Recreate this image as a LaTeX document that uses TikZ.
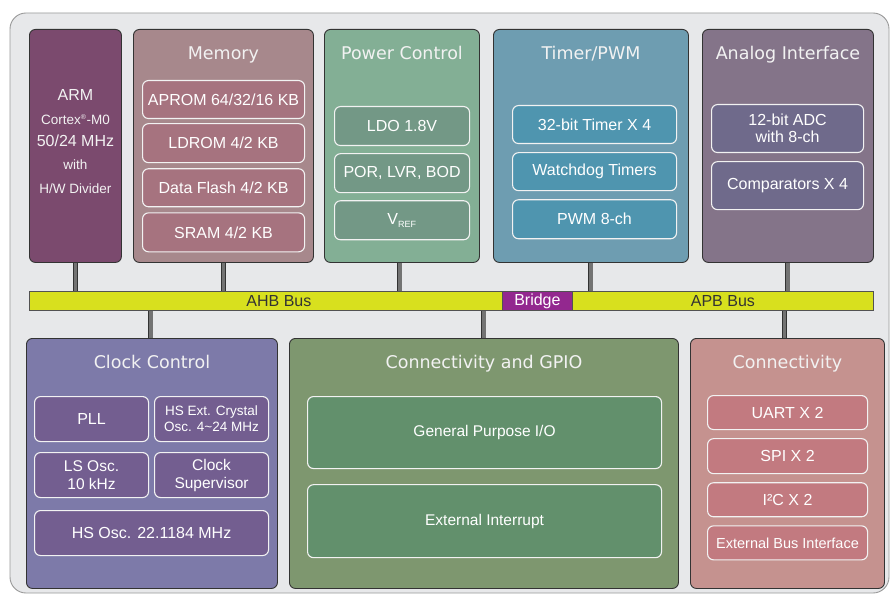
\documentclass[tikz,border=0pt]{standalone}
\usepackage{fontspec}
\setmainfont{Liberation Sans}
\newfontfamily\titlefont{DejaVu Sans}
\usetikzlibrary{positioning,calc}
\definecolor{cInk}{HTML}{333333}
\definecolor{cBg}{HTML}{E7E8EA}
\definecolor{cFrame}{HTML}{9A9A9A}
\definecolor{cArm}{HTML}{7B4A6E}
\definecolor{cMem}{HTML}{A7888C}
\definecolor{cMemIn}{HTML}{A6737F}
\definecolor{cPow}{HTML}{83AF95}
\definecolor{cPowIn}{HTML}{739886}
\definecolor{cTim}{HTML}{6E9DB1}
\definecolor{cTimIn}{HTML}{4F95AF}
\definecolor{cAna}{HTML}{847489}
\definecolor{cAnaIn}{HTML}{6F6A8B}
\definecolor{cClk}{HTML}{7D7AA9}
\definecolor{cClkIn}{HTML}{735E90}
\definecolor{cGpio}{HTML}{7E976F}
\definecolor{cGpioIn}{HTML}{62906C}
\definecolor{cCon}{HTML}{C5928F}
\definecolor{cConIn}{HTML}{C27A80}
\definecolor{cBus}{HTML}{D8E01E}
\definecolor{cBridge}{HTML}{93288F}
\newcommand{\fs}[1]{\fontsize{#1}{#1}\selectfont}
\tikzset{
  block/.style = {draw=cInk, rounded corners=6pt, line width=0.9pt,
                  anchor=north west, inner sep=0pt},
  part/.style  = {draw=white!90!gray, rounded corners=6pt, line width=1.1pt,
                  text=white, align=center, inner sep=0pt,
                  font=\fs{16}},
  title/.style = {text=white!95!black, font=\titlefont\fs{17.5}, anchor=base},
  armtxt/.style = {text=white!95!black, font=\fs{13.5}},
  bus/.style   = {draw=cInk!85, line width=0.8pt, fill=cBus, anchor=north west,
                  inner sep=0pt, minimum height=19pt, font=\fs{16}, text=cInk},
  link/.style  = {draw=cInk, double=black!55, double distance=3.6pt,
                  line width=0.7pt},
}
\begin{document}
\begin{tikzpicture}[x=1pt, y=-1pt, node distance=4pt]
  \useasboundingbox (0,0) rectangle (891,596);
  \fill[white] (0,0) rectangle (891,596);
  \draw[cFrame, fill=cBg, line width=0.9pt, rounded corners=16pt]
    (10,13) rectangle (889,593);
  % ---- top row ----
  \node[block, fill=cArm, minimum width=92pt, minimum height=233pt] (arm)
    at (29,29) {};
  \node[armtxt, font=\fs{16}] (arm1) at ($(arm.north)+(0,66)$) {ARM};
  \node[armtxt] (arm2) at ($(arm.north)+(0,91)$) {Cortex\textsuperscript{\fs{7}®}-M0};
  \node[armtxt, font=\fs{16}] (arm3) at ($(arm.north)+(0,112)$) {50/24 MHz};
  \node[armtxt] (arm4) at ($(arm.north)+(0,136)$) {with};
  \node[armtxt] (arm5) at ($(arm.north)+(0,160)$) {H/W Divider};

  \node[block, fill=cMem, minimum width=180pt, minimum height=233pt] (mem)
    at (133,29) {};
  \node[title] (memT) at ($(mem.north)+(0,31)$) {Memory};
  \node[part, fill=cMemIn, minimum width=162pt, minimum height=38pt,
        anchor=north west] (aprom) at (142,80) {APROM 64/32/16 KB};
  \node[part, fill=cMemIn, minimum width=162pt, minimum height=39pt,
        below=4pt of aprom] (ldrom) {LDROM 4/2 KB};
  \node[part, fill=cMemIn, minimum width=162pt, minimum height=38pt,
        below=5pt of ldrom] (dflash) {Data Flash 4/2 KB};
  \node[part, fill=cMemIn, minimum width=162pt, minimum height=39pt,
        below=5pt of dflash] (sram) {SRAM 4/2 KB};

  \node[block, fill=cPow, minimum width=155pt, minimum height=233pt] (pow)
    at (324,29) {};
  \node[title] (powT) at ($(pow.north)+(0,31)$) {Power Control};
  \node[part, fill=cPowIn, minimum width=135pt, minimum height=39pt,
        anchor=north west] (ldo) at (334,106) {LDO 1.8V};
  \node[part, fill=cPowIn, minimum width=135pt, minimum height=39pt,
        below=7pt of ldo] (por) {POR, LVR, BOD};
  \node[part, fill=cPowIn, minimum width=135pt, minimum height=39pt,
        below=7pt of por] (vref) {V\textsubscript{\fs{9}REF}};

  \node[block, fill=cTim, minimum width=195pt, minimum height=233pt] (tim)
    at (493,29) {};
  \node[title] (timT) at ($(tim.north)+(0,31)$) {Timer/PWM};
  \node[part, fill=cTimIn, minimum width=164pt, minimum height=38pt,
        anchor=north west] (timer) at (512,105) {32-bit Timer X 4};
  \node[part, fill=cTimIn, minimum width=164pt, minimum height=38pt,
        below=8pt of timer] (wdt) {Watchdog Timers};
  \node[part, fill=cTimIn, minimum width=164pt, minimum height=39pt,
        below=8pt of wdt] (pwm) {PWM 8-ch};

  \node[block, fill=cAna, minimum width=171pt, minimum height=233pt] (ana)
    at (702,29) {};
  \node[title] (anaT) at ($(ana.north)+(0,31)$) {Analog Interface};
  \node[part, fill=cAnaIn, minimum width=152pt, minimum height=48pt,
        anchor=north west, font=\fontsize{16}{17}\selectfont] (adc)
    at (711,104) {12-bit ADC\\ with 8-ch};
  \node[part, fill=cAnaIn, minimum width=152pt, minimum height=48pt,
        below=8pt of adc] (cmp) {Comparators X 4};

  % ---- buses ----
  \node[bus, minimum width=473pt] (ahb) at (29,291) {};
  \node[text=cInk, font=\fs{16}] (ahbT) at ($(ahb.center)+(13,0)$) {AHB Bus};
  \node[bus, fill=cBridge, text=white, minimum width=70pt] (bridge)
    at (502,291) {Bridge};
  \node[bus, minimum width=301pt] (apb) at (572,291) {APB Bus};

  % ---- bottom row ----
  \node[block, fill=cClk, minimum width=251pt, minimum height=250pt] (clk)
    at (26,338) {};
  \node[title] (clkT) at ($(clk.north)+(0,30)$) {Clock Control};
  \node[part, fill=cClkIn, minimum width=114pt, minimum height=45pt,
        anchor=north west] (pll) at (34,396) {PLL};
  \node[part, fill=cClkIn, minimum width=114pt, minimum height=45pt,
        anchor=north west, font=\fontsize{13.5}{16}\selectfont] (hxt)
    at (154,396) {HS Ext. Crystal\\ Osc. 4\textasciitilde24 MHz};
  \node[part, fill=cClkIn, minimum width=114pt, minimum height=45pt,
        anchor=north west, font=\fontsize{15.5}{18}\selectfont] (lirc)
    at (34,452) {LS Osc.\\ 10 kHz};
  \node[part, fill=cClkIn, minimum width=114pt, minimum height=45pt,
        anchor=north west, font=\fontsize{15.5}{18}\selectfont] (cksup)
    at (154,452) {Clock\\ Supervisor};
  \node[part, fill=cClkIn, minimum width=234pt, minimum height=45pt,
        anchor=north west] (hirc) at (34,510) {HS Osc. 22.1184 MHz};

  \node[block, fill=cGpio, minimum width=389pt, minimum height=250pt] (gpio)
    at (289,338) {};
  \node[title] (gpioT) at ($(gpio.north)+(0,30)$) {Connectivity and GPIO};
  \node[part, fill=cGpioIn, minimum width=354pt, minimum height=72pt,
        anchor=north west, font=\fs{15.5}] (gpio1) at (307,396)
    {General Purpose I/O};
  \node[part, fill=cGpioIn, minimum width=354pt, minimum height=73pt,
        below=15pt of gpio1, font=\fs{15.5}] (eint) {External Interrupt};

  \node[block, fill=cCon, minimum width=194pt, minimum height=250pt] (con)
    at (690,338) {};
  \node[title] (conT) at ($(con.north)+(0,30)$) {Connectivity};
  \node[part, fill=cConIn, minimum width=160pt, minimum height=34pt,
        anchor=north west] (uart) at (707,395) {UART X 2};
  \node[part, fill=cConIn, minimum width=160pt, minimum height=35pt,
        below=8pt of uart] (spi) {SPI X 2};
  \node[part, fill=cConIn, minimum width=160pt, minimum height=34pt,
        below=8pt of spi] (i2c) {I²C X 2};
  \node[part, fill=cConIn, minimum width=160pt, minimum height=34pt,
        below=8pt of i2c, font=\fs{14.5}] (ebi) {External Bus Interface};

  % ---- links to the buses ----
  \draw[link] (arm.south) -- (arm.south |- ahb.north);
  \draw[link] (mem.south) -- (mem.south |- ahb.north);
  \draw[link] ([xshift=-2pt]pow.south) -- ([xshift=-2pt]pow.south |- ahb.north);
  \draw[link] (tim.south) -- (tim.south |- apb.north);
  \draw[link] (ana.south) -- (ana.south |- apb.north);
  \draw[link] ([xshift=-1pt]clk.north) -- ([xshift=-1pt]clk.north |- ahb.south);
  \draw[link] (gpio.north) -- (gpio.north |- ahb.south);
  \draw[link] ([xshift=-3pt]con.north) -- ([xshift=-3pt]con.north |- apb.south);
\end{tikzpicture}
\end{document}
